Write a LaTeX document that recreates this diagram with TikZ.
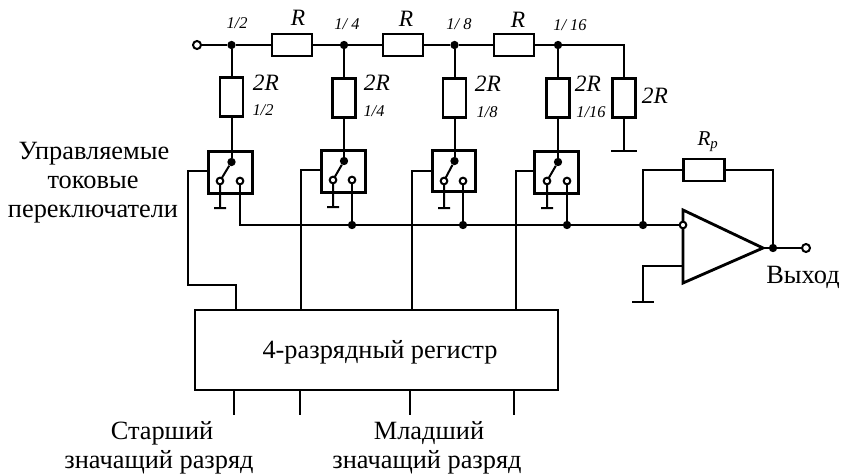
\documentclass[tikz,border=0pt]{standalone}
\usepackage{fontspec}
\setmainfont{Liberation Serif}
\usetikzlibrary{calc,positioning}

\tikzset{
  wire/.style={line width=0.06cm},
  res/.style={draw,line width=0.085cm,inner sep=0pt,fill=white},
  hres/.style={res,minimum width=1.2cm,minimum height=0.66cm},
  vres/.style={res,minimum width=0.69cm,minimum height=1.17cm},
  swbox/.style={draw,line width=0.085cm,inner sep=0pt,minimum width=1.3cm,minimum height=1.25cm},
  dot/.style={circle,fill=black,inner sep=0pt,minimum size=0.25cm},
  pin/.style={circle,draw,line width=0.06cm,fill=white,inner sep=0pt,minimum size=0.2cm},
  lbl/.style={font=\fontsize{22.5}{24}\selectfont,inner sep=0pt,anchor=base},
  val/.style={font=\fontsize{20}{22}\selectfont\itshape,inner sep=0pt},
  frac/.style={font=\fontsize{14}{16}\selectfont\itshape,inner sep=0pt}
}

\begin{document}
\begin{tikzpicture}[x=0.03cm,y=-0.03cm]
\useasboundingbox (0,0) rectangle (843,474);

%Input line and junctions
\node[pin,minimum size=0.24cm] (In) at (197,45) {};
\node[dot] (J1) at (231.5,45) {};
\node[dot] (J2) at (344,45) {};
\node[dot] (J3) at (454.5,45) {};
\node[dot] (J4) at (558,45) {};
\coordinate (Corner) at (624,45);

%Series resistors
\node[hres] (R1) at (292,45) {};
\node[hres] (R2) at (403,45) {};
\node[hres] (R3) at (514,45) {};
\node[val] (LR1) at (298,18) {R};
\node[val] (LR2) at (406,19) {R};
\node[val] (LR3) at (518,20) {R};

%Shunt resistors
\node[vres] (S1) at (231.5,97) {};
\node[vres] (S2) at (344,98) {};
\node[vres] (S3) at (454.5,98) {};
\node[vres] (S4) at (558,98) {};
\node[vres] (S5) at (624,98) {};

%Weights and values
\node[frac] (T1) at (237,23) {1/2};
\node[frac] (T2) at (347,24) {1/ 4};
\node[frac] (T3) at (459,24) {1/ 8};
\node[frac] (T4) at (570,25) {1/ 16};
\node[val] (V1) at (266,83) {2R};
\node[val] (V2) at (377,83) {2R};
\node[val] (V3) at (488,84) {2R};
\node[val] (V4) at (588,84) {2R};
\node[val] (V5) at (655,96) {2R};
\node[frac] (W1) at (263,110) {1/2};
\node[frac] (W2) at (374,111) {1/4};
\node[frac] (W3) at (487,112) {1/8};
\node[frac] (W4) at (591,112) {1/16};

%Switches
\node[swbox] (B1) at (230.5,172.5) {};
\node[swbox] (B2) at (343.5,171.5) {};
\node[swbox] (B3) at (454,171) {};
\node[swbox] (B4) at (556.5,172.5) {};
\node[dot] (P1) at (231.5,162) {};
\node[dot] (P2) at (344,161) {};
\node[dot] (P3) at (454.5,161) {};
\node[dot] (P4) at (558,162) {};
\coordinate (G1) at (220,208);
\coordinate (G2) at (333,207);
\coordinate (G3) at (444,208);
\coordinate (G4) at (547,208);

%Drawing the ladder
\draw[wire] (In) -- (J1) -- (R1) -- (J2) -- (R2) -- (J3) -- (R3) -- (J4) -- (Corner) -- (S5);
\draw[wire] (J1) -- (S1) -- (P1);
\draw[wire] (J2) -- (S2) -- (P2);
\draw[wire] (J3) -- (S3) -- (P3);
\draw[wire] (J4) -- (S4) -- (P4);
\draw[wire] (P1) -- (G1 |- 0,181) -- (G1) ++(-6,0) -- ++(12,0);
\draw[wire] (P2) -- (G2 |- 0,180) -- (G2) ++(-6,0) -- ++(12,0);
\draw[wire] (P3) -- (G3 |- 0,181) -- (G3) ++(-6,0) -- ++(12,0);
\draw[wire] (P4) -- (G4 |- 0,181) -- (G4) ++(-6,0) -- ++(12,0);

%Switch contacts
\node[pin] (A1) at (220,181) {};
\node[pin] (A2) at (333,180) {};
\node[pin] (A3) at (444,181) {};
\node[pin] (A4) at (547,181) {};
\node[pin] (C1) at (240,181) {};
\node[pin] (C2) at (352,180) {};
\node[pin] (C3) at (463,181) {};
\node[pin] (C4) at (567,181) {};

%Terminating resistor to ground
\coordinate (G5) at (624,151);
\draw[wire] (S5) -- (G5) ++(-13,0) -- ++(26,0);

%Operational amplifier
\coordinate (TL) at (683,210);
\coordinate (BL) at (683,283);
\coordinate (Apex) at (763,248);
\draw[line width=0.085cm,line join=miter] (TL) -- (Apex) -- (BL) -- cycle;
\coordinate (Pos) at (683,266);
\node[dot] (JF) at (643,225) {};
\node[dot] (JO) at (773,248) {};
\node[pin,minimum size=0.24cm] (Out) at (806,248) {};
\node[hres,minimum width=1.25cm] (Rp) at (704,170) {};
\node[val,font=\fontsize{18}{20}\selectfont\itshape] (LRp) at (708,142) {R\textsubscript{p}};
\coordinate (FL) at (643,170);
\coordinate (FR) at (773,170);
\coordinate (GP) at (643,266);
\coordinate (GO) at (643,302);
\draw[wire] (JF) -- (FL) -- (Rp) -- (FR) -- (JO);
\draw[wire] (Apex) -- (JO) -- (Out);
\draw[wire] (Pos) -- (GP) -- (GO) ++(-11,0) -- ++(22,0);

%Output bus
\node[dot] (D2) at (352,225) {};
\node[dot] (D3) at (463,225) {};
\node[dot] (D4) at (567,225) {};
\coordinate (Bus) at (240,225);
\draw[wire] (C1) -- (Bus) -- (D2) -- (D3) -- (D4) -- (JF);
\draw[wire] (C2) -- (D2);
\draw[wire] (C3) -- (D3);
\draw[wire] (C4) -- (D4);
\node[pin] (Neg) at (683,225) {};
\draw[wire] (JF) -- (Neg);

%Register
\node[draw,line width=0.085cm,inner sep=0pt,minimum width=10.89cm,minimum height=2.4cm] (Reg) at (376.5,350) {};
\node[lbl] (RegText) at (380,358) {4-разрядный регистр};

%Control lines
\coordinate (K1) at (188,171);
\coordinate (K2) at (301,170);
\coordinate (K3) at (412,171);
\coordinate (K4) at (516,171);
\coordinate (M1) at (188,285);
\coordinate (M2) at (236,285);
\draw[wire] (B1.west |- K1) -- (K1) -- (M1) -- (M2) -- (M2 |- Reg.north);
\draw[wire] (B2.west |- K2) -- (K2) -- (K2 |- Reg.north);
\draw[wire] (B3.west |- K3) -- (K3) -- (K3 |- Reg.north);
\draw[wire] (B4.west |- K4) -- (K4) -- (K4 |- Reg.north);

%Register inputs
\coordinate (I1) at (234,415);
\coordinate (I2) at (300,415);
\coordinate (I3) at (410,415);
\coordinate (I4) at (514,415);
\draw[wire] (I1 |- Reg.south) -- (I1);
\draw[wire] (I2 |- Reg.south) -- (I2);
\draw[wire] (I3 |- Reg.south) -- (I3);
\draw[wire] (I4 |- Reg.south) -- (I4);

%Text labels
\node[lbl] (L1) at (94,159) {Управляемые};
\node[lbl] (L2) at (93,188) {токовые};
\node[lbl] (L3) at (93,217) {переключатели};
\node[lbl] (LOut) at (803,283) {Выход};
\node[lbl] (LS1) at (162,439) {Старший};
\node[lbl] (LS2) at (159,468) {значащий разряд};
\node[lbl] (LM1) at (429,439) {Младший};
\node[lbl] (LM2) at (427,468) {значащий разряд};

\end{tikzpicture}
\end{document}
